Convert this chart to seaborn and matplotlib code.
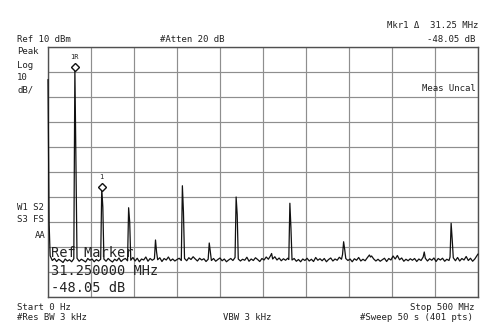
import matplotlib
matplotlib.use("Agg")
import matplotlib.pyplot as plt
import seaborn as sns
import pandas as pd

# ---- trace data (frequency in MHz, level in dBm) ----
freq_mhz = [
    0.0, 1.25, 2.5, 5, 7.5, 10, 12.5, 15, 17.5, 20, 22.5, 25, 27.5, 30,
    31.25, 32.5, 33.75, 36.25, 38.75, 41.25, 43.75, 46.25, 48.75, 51.25, 53.75,
    56.25, 58.75, 61.25, 62.5, 63.75, 65.0, 67.5, 70, 72.5, 75, 77.5, 80, 82.5,
    85, 87.5, 90, 92.5, 93.75, 95.0, 96.25, 98.75, 101.25, 103.75, 106.25,
    108.75, 111.25, 113.75, 116.25, 118.75, 121.25, 123.75, 125, 126.25, 127.5,
    130, 132.5, 135, 137.5, 140, 142.5, 145, 147.5, 150, 152.5, 155, 156.25,
    157.5, 158.75, 161.25, 163.75, 166.25, 168.75, 171.25, 173.75, 176.25,
    178.75, 181.25, 183.75, 186.25, 187.5, 188.75, 190, 192.5, 195, 197.5, 200,
    202.5, 205, 207.5, 210, 212.5, 215, 217.5, 218.75, 220, 221.25, 223.75,
    226.25, 228.75, 231.25, 233.75, 236.25, 238.75, 241.25, 243.75, 246.25,
    248.75, 251.25, 253.75, 256.25, 258.75, 260, 261.25, 263.75, 266.25,
    268.75, 271.25, 273.75, 276.25, 278.75, 280, 281.25, 282.5, 283.75, 286.25,
    288.75, 291.25, 293.75, 296.25, 298.75, 301.25, 303.75, 306.25, 308.75,
    311.25, 313.75, 316.25, 318.75, 321.25, 323.75, 326.25, 328.75, 331.25,
    333.75, 336.25, 338.75, 341.25, 342.5, 343.75, 345, 346.25, 348.75, 351.25,
    353.75, 356.25, 358.75, 361.25, 363.75, 366.25, 368.75, 371.25, 373.75,
    375, 376.25, 378.75, 381.25, 383.75, 386.25, 388.75, 391.25, 393.75,
    396.25, 398.75, 401.25, 403.75, 406.25, 408.75, 411.25, 413.75, 416.25,
    418.75, 421.25, 423.75, 426.25, 428.75, 431.25, 433.75, 436.25, 437.5,
    438.75, 441.25, 443.75, 446.25, 448.75, 451.25, 453.75, 456.25, 458.75,
    461.25, 463.75, 466.25, 467.5, 468.75, 470, 471.25, 473.75, 476.25,
    478.75, 481.25, 483.75, 486.25, 488.75, 491.25, 493.75, 496.25, 498.75, 500,
]
level_dbm = [
    -3.0, -60.0, -73.5, -75.4, -74.6, -75.8, -74.9, -75.5, -76.2, -74.8, -75.6, -75.1, -75.9, -74.7,
    1.5, -37.0, -74.5, -75.7, -74.9, -75.4, -76.0, -74.6, -75.3, -74.8, -75.9,
    -75.0, -75.6, -74.9, -46.55, -54.0, -74.8, -75.7, -74.6, -75.4, -76.0, -74.9, -75.5, -74.4,
    -75.8, -75.0, -74.6, -75.5, -54.3, -60.0, -75.3, -74.2, -75.6, -74.5, -75.9,
    -74.8, -75.2, -74.0, -75.7, -74.6, -75.3, -74.7, -67.2, -72.0, -75.1,
    -74.3, -75.8, -74.6, -75.2, -74.0, -75.5, -74.8, -75.6, -75.0, -74.5, -75.4, -45.5,
    -56.0, -74.6, -75.5, -74.3, -75.0, -73.9, -74.8, -75.6, -74.5,
    -75.2, -74.7, -75.8, -74.9, -68.4, -72.0, -75.4, -74.6, -75.7, -75.0, -74.4,
    -75.5, -74.8, -75.9, -75.2, -74.6, -75.4, -74.2, -50.0, -57.0, -74.8, -75.6,
    -74.9, -75.3, -74.1, -75.7, -74.8, -75.4, -74.3, -75.0, -75.8,
    -74.6, -75.2, -74.0, -74.9, -73.5, -72.6, -74.8, -73.9, -75.2,
    -74.4, -75.5, -74.7, -75.3, -74.5, -75.0, -52.5, -62.5, -75.2, -74.6,
    -75.7, -75.0, -75.9, -74.8, -75.4, -74.5, -75.6, -74.9, -75.8,
    -74.2, -75.3, -74.7, -75.5, -74.6, -75.9, -75.0, -74.4, -75.6,
    -74.8, -75.3, -74.1, -74.9, -73.0, -67.9, -71.0, -74.6, -75.4, -74.8,
    -75.9, -74.7, -75.3, -74.2, -75.6, -74.9, -75.5, -74.3, -73.2,
    -74.0, -73.6, -74.8, -75.6, -74.9, -75.7, -75.1, -74.5, -75.8,
    -74.6, -75.2, -73.6, -74.8, -73.4, -75.1, -74.4, -75.7, -74.9,
    -75.5, -74.7, -75.3, -74.6, -75.8, -74.8, -75.4, -74.0, -72.0,
    -74.5, -75.6, -74.7, -75.3, -74.4, -75.8, -74.6, -75.2, -74.5,
    -75.7, -74.9, -75.4, -74.0, -60.5, -67.0, -74.3, -75.5, -74.2,
    -75.6, -74.6, -75.2, -73.8, -75.4, -74.5, -75.7, -74.8, -73.5, -72.8,
]
marker_freqs = [31.25, 62.5]
marker_levels = [1.5, -46.55]
marker_labels = ["1R", "1"]

ref_level = 10
db_per_div = 10
start_mhz, stop_mhz = 0, 500

W, H = 500, 336
sns.set_style("white")
plt.rcParams["font.family"] = ["DejaVu Sans Mono", "DejaVu Sans"]

fig = plt.figure(figsize=(W / 100, H / 100), dpi=100)
L, R, T, B = 48, 478, 47, 297
ax = fig.add_axes([L / W, 1 - B / H, (R - L) / W, (B - T) / H])

df = pd.DataFrame({"f": freq_mhz, "lvl": level_dbm})
sns.lineplot(data=df, x="f", y="lvl", ax=ax, color="#111111", linewidth=0.9,
             estimator=None, sort=False, clip_on=False, zorder=3)

ax.set_xlim(start_mhz, stop_mhz)
ax.set_ylim(ref_level - 10 * db_per_div, ref_level)
ax.set_xticks(range(start_mhz, stop_mhz + 1, 50))
ax.set_yticks(range(ref_level - 10 * db_per_div, ref_level + 1, db_per_div))
ax.grid(True, color="#8e8e8e", linewidth=0.85)
ax.tick_params(length=0, labelbottom=False, labelleft=False)
ax.set_xlabel("")
ax.set_ylabel("")
for s in ax.spines.values():
    s.set_color("#505050")
    s.set_linewidth(1.0)

# markers
ax.plot(marker_freqs, [m + 0.6 for m in marker_levels], linestyle="none", marker="D",
        markersize=3.8, markerfacecolor="white", markeredgecolor="#111111",
        markeredgewidth=1.0, zorder=5)
for fq, lv, lab in zip(marker_freqs, marker_levels, marker_labels):
    ax.annotate(lab, (fq, lv), xytext=(0, 8), textcoords="offset points",
                ha="center", va="center", fontsize=5, color="#222222")

def t(x, y, s, size=6.5, ha="left", **kw):
    fig.text(x / W, 1 - y / H, s, fontsize=size, ha=ha, va="center",
             color="#222222", **kw)

t(478, 25, "Mkr1 \u0394  31.25 MHz", ha="right")
t(475, 40, "-48.05 dB", ha="right")
t(17, 40, "Ref 10 dBm")
t(160, 40, "#Atten 20 dB")
t(17, 52, "Peak")
t(17, 65, "Log")
t(17, 77, "10")
t(17, 90, "dB/")
t(476, 89, "Meas Uncal", ha="right")
t(17, 207, "W1 S2")
t(17, 220, "S3 FS")
t(46, 236, "AA", ha="right")
t(51, 253, "Ref Marker", size=9.8)
t(51, 271, "31.250000 MHz", size=9.8)
t(51, 288, "-48.05 dB", size=9.8)
t(17, 307, "Start 0 Hz")
t(17, 318, "#Res BW 3 kHz")
t(223, 318, "VBW 3 kHz")
t(475, 307, "Stop 500 MHz", ha="right")
t(473, 318, "#Sweep 50 s (401 pts)", ha="right")

fig.savefig("out.png", dpi=100, facecolor="white")
